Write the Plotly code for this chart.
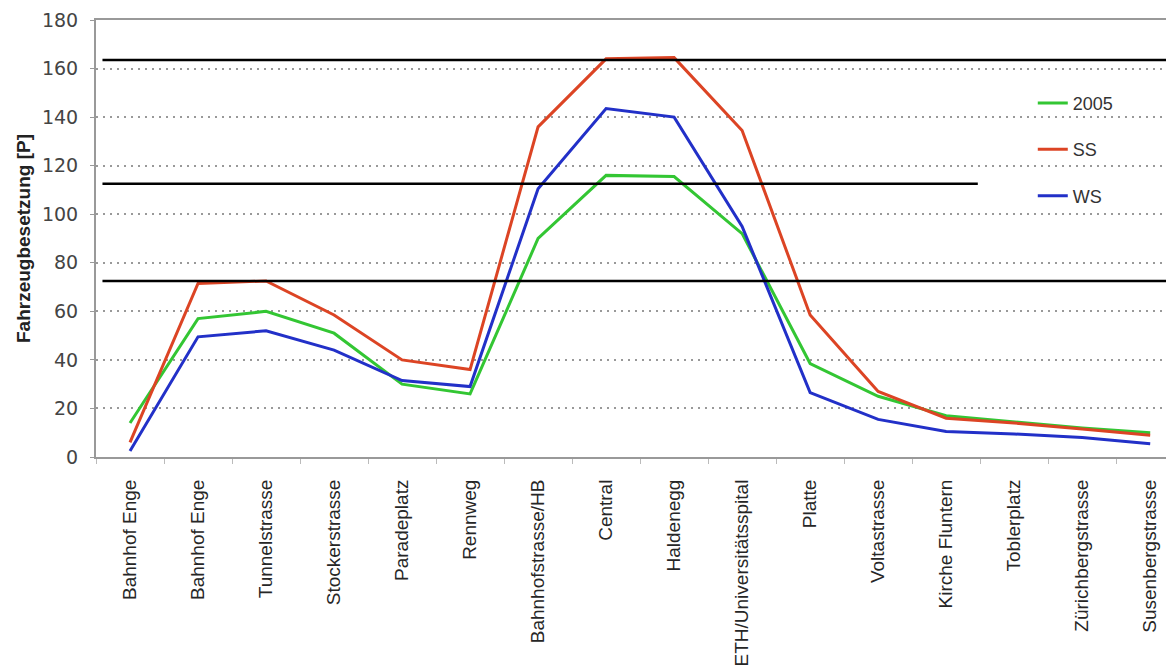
import plotly.graph_objects as go

stops = [
    "Bahnhof Enge", "Bahnhof Enge", "Tunnelstrasse", "Stockerstrasse",
    "Paradeplatz", "Rennweg", "Bahnhofstrasse/HB", "Central", "Haldenegg",
    "ETH/Universitätsspital", "Platte", "Voltastrasse", "Kirche Fluntern",
    "Toblerplatz", "Zürichbergstrasse", "Susenbergstrasse",
]

occ_2005 = [14, 57, 60, 51, 30, 26, 90, 116, 115.5, 92, 38.5, 25, 17, 14.5, 12, 10]
occ_ss = [6, 71.5, 72.5, 58.5, 40, 36, 136, 164, 164.5, 134.5, 58.5, 27, 16, 14, 11.5, 9]
occ_ws = [2.5, 49.5, 52, 44, 31.5, 29, 110.5, 143.5, 140, 95, 26.5, 15.5, 10.5, 9.5, 8, 5.5]

# capacity levels (black lines), and where each one stops (paper x)
capacity = [163.5, 112.5, 72.5]
capacity_end = [1.0, 0.818, 1.0]

x = list(range(len(stops)))

fig = go.Figure()

series = [
    ("2005", occ_2005, "#33c633"),
    ("SS", occ_ss, "#dc4424"),
    ("WS", occ_ws, "#2230c8"),
]
for name, vals, col in series:
    fig.add_trace(go.Scatter(
        x=x, y=vals, mode="lines", name=name, legendgroup=name,
        line=dict(color=col, width=3),
    ))

for level, end in zip(capacity, capacity_end):
    fig.add_shape(type="line", xref="paper", yref="y",
                  x0=0.006, x1=end, y0=level, y1=level,
                  line=dict(color="black", width=2.5), layer="above")

# white box behind the legend, hides the dotted grid there
fig.add_shape(type="rect", xref="paper", yref="paper",
              x0=0.823, x1=0.997, y0=0.47, y1=0.88,
              fillcolor="white", line=dict(width=0), layer="between")

fig.update_layout(
    width=1166, height=658,
    margin=dict(l=88, r=0, t=12, b=209, autoexpand=False),
    paper_bgcolor="white", plot_bgcolor="white",
    font=dict(family="Liberation Sans, Arial, sans-serif", color="#222"),
    legend=dict(
        x=0.869, y=0.852, xanchor="left", yanchor="top",
        bgcolor="rgba(0,0,0,0)", font=dict(size=18, color="#333"),
        tracegroupgap=20,
    ),
    showlegend=True,
)

fig.update_xaxes(
    range=[-0.5, 15.35], automargin=False,
    tickmode="array", tickvals=x, ticktext=stops, tickangle=-90,
    ticks="", tickfont=dict(size=19, color="#262626"),
    ticklabelstandoff=13,
    minor=dict(tick0=0.5, dtick=1, ticks="outside", ticklen=5, tickcolor="#bbb"),
    showgrid=False, zeroline=False,
    showline=True, linecolor="#999", linewidth=2, mirror=True,
)

fig.update_yaxes(
    range=[0, 180], dtick=20, automargin=False,
    tickfont=dict(family="DejaVu Sans, Verdana, sans-serif", size=19, color="#444"),
    ticks="outside", ticklen=4, tickcolor="#999",
    ticklabelstandoff=8,
    showgrid=True, gridcolor="#999", griddash="2px,5px", gridwidth=2,
    zeroline=False, showline=True, linecolor="#999", linewidth=2,
    title=dict(text="<b>Fahrzeugbesetzung [P]</b>", standoff=6,
               font=dict(size=19, color="#222")),
)

fig.write_html("out.html")
